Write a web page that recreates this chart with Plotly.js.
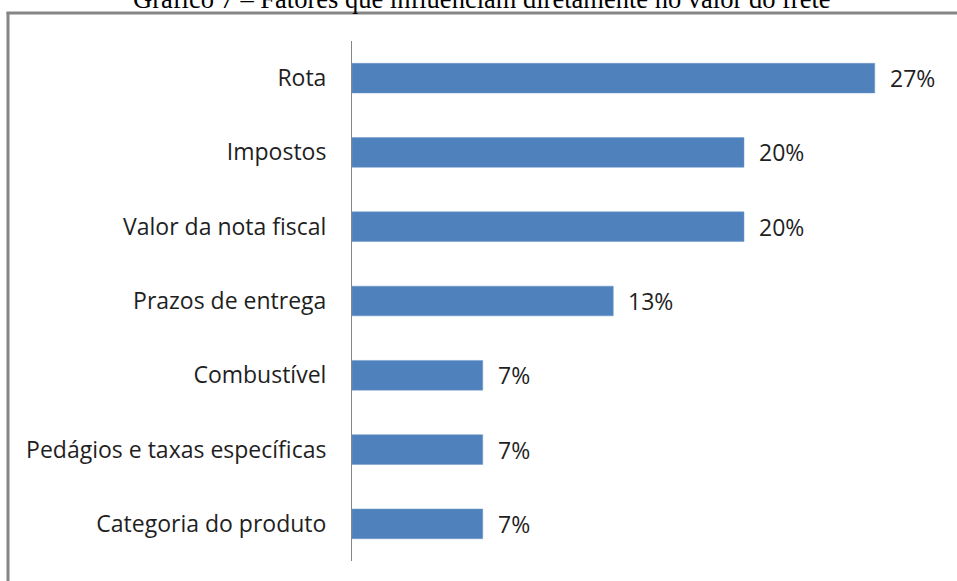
<!DOCTYPE html>
<html>
<head>
<meta charset="utf-8">
<script src="https://cdn.plot.ly/plotly-3.0.1.min.js"></script>
<style>html,body{margin:0;padding:0;background:#fff;}#chart{width:957px;height:581px;}</style>
</head>
<body>
<div id="chart"></div>
<script>
const categories = ["Rota", "Impostos", "Valor da nota fiscal", "Prazos de entrega", "Combustível", "Pedágios e taxas específicas", "Categoria do produto"];
const values = [26.67, 20, 20, 13.33, 6.67, 6.67, 6.67];
const valueLabels = ["27%", "20%", "20%", "13%", "7%", "7%", "7%"];
const chartTitle = "Gráfico 7 – Fatores que influenciam diretamente no valor do frete";

const W = 957, H = 581;
const m = {l: 352, r: 17, t: 41, b: 20};
const pw = W - m.l - m.r, ph = H - m.t - m.b;
const px = v => (v - m.l) / pw;
const py = v => 1 + (m.t - v) / ph;

const labelFont = {family: '"Open Sans", sans-serif', size: 23, color: '#1f1f1f'};

const trace = {
  type: 'bar', orientation: 'h',
  x: values, y: categories,
  marker: {color: '#4F81BD', line: {color: '#6f98c9', width: 0.5}},
  width: 0.4,
  hoverinfo: 'skip'
};

const annotations = categories.map((c, i) => ({
  x: values[i], y: c, xref: 'x', yref: 'y',
  text: valueLabels[i], showarrow: false,
  xanchor: 'left', yanchor: 'middle', xshift: 13,
  font: labelFont
}));
annotations.push({
  xref: 'paper', yref: 'paper', x: px(482), y: py(16),
  xanchor: 'center', yanchor: 'bottom', showarrow: false,
  text: chartTitle,
  font: {family: '"Liberation Serif", "Times New Roman", serif', size: 26.5, color: '#000'}
});

const layout = {
  width: W, height: H,
  margin: m,
  paper_bgcolor: '#fff', plot_bgcolor: '#fff',
  showlegend: false,
  xaxis: {range: [0, 30], visible: false, fixedrange: true},
  yaxis: {
    autorange: 'reversed', showline: true, linecolor: '#868686', linewidth: 1,
    ticks: '', showgrid: false, zeroline: false, ticklabelstandoff: 20,
    tickfont: labelFont
  },
  annotations: annotations,
  shapes: [
    {type: 'line', xref: 'paper', yref: 'paper', x0: px(8), x1: px(8), y0: py(12), y1: py(600), line: {color: '#868686', width: 3}},
    {type: 'line', xref: 'paper', yref: 'paper', x0: px(6.5), x1: px(980), y0: py(13), y1: py(13), line: {color: '#868686', width: 3}}
  ]
};

Plotly.newPlot('chart', [trace], layout, {displayModeBar: false, staticPlot: true});
</script>
</body>
</html>
